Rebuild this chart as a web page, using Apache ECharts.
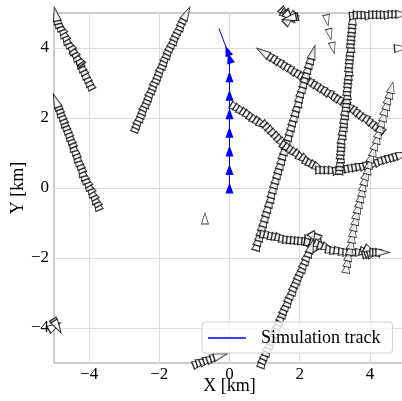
<!DOCTYPE html>
<html>
<head>
<meta charset="utf-8">
<script src="https://cdn.jsdelivr.net/npm/echarts@6/dist/echarts.min.js"></script>
<style>
  html, body { margin: 0; padding: 0; background: #fff; }
  #chart { width: 402px; height: 401px; }
</style>
</head>
<body>
<div id="chart"></div>
<script>
// tick labels
const xTicks = [-4, -2, 0, 2, 4];
const yTicks = [-4, -2, 0, 2, 4];

// simulation track (km)
const simTrack = [
  [0, 0], [0, 0.53], [0, 1.06], [0, 1.59], [0, 2.12], [0, 2.65], [0, 3.18], [0, 3.71],
  [-0.06, 3.92], [-0.3, 4.56]
];

// observed tracks (km), ordered along direction of travel
const trackA = [
  [-4.00, 3.00], [-4.05, 3.10], [-4.10, 3.21], [-4.15, 3.31], [-4.20, 3.42], [-4.25, 3.52],
  [-4.30, 3.63], [-4.33, 3.70], [-4.36, 3.75], [-4.31, 3.68], [-4.35, 3.73], [-4.41, 3.82],
  [-4.46, 3.92], [-4.52, 4.01], [-4.57, 4.11], [-4.63, 4.20], [-4.68, 4.30], [-4.72, 4.40],
  [-4.77, 4.49], [-4.81, 4.59], [-4.86, 4.68], [-4.90, 4.78], [-4.93, 4.88], [-4.95, 4.97]
];
const trackB = [
  [-3.78, -0.44], [-3.82, -0.34], [-3.87, -0.25], [-3.91, -0.15], [-3.96, -0.06], [-4.00, 0.04],
  [-4.05, 0.13], [-4.09, 0.23], [-4.14, 0.32], [-4.18, 0.42], [-4.22, 0.52], [-4.25, 0.63],
  [-4.29, 0.73], [-4.33, 0.83], [-4.37, 0.94], [-4.40, 1.04], [-4.44, 1.14], [-4.48, 1.24],
  [-4.51, 1.35], [-4.55, 1.45], [-4.59, 1.55], [-4.62, 1.64], [-4.66, 1.74], [-4.70, 1.84],
  [-4.74, 1.94], [-4.77, 2.03], [-4.81, 2.13], [-4.85, 2.23], [-4.88, 2.32], [-4.92, 2.42],
  [-4.95, 2.50]
];
const trackC = [
  [-2.64, 1.79], [-2.60, 1.89], [-2.56, 1.99], [-2.51, 2.09], [-2.47, 2.19], [-2.43, 2.29],
  [-2.39, 2.39], [-2.34, 2.49], [-2.30, 2.59], [-2.26, 2.69], [-2.22, 2.79], [-2.17, 2.89],
  [-2.13, 2.99], [-2.09, 3.09], [-2.04, 3.19], [-2.00, 3.29], [-1.96, 3.39], [-1.92, 3.49],
  [-1.87, 3.59], [-1.83, 3.69], [-1.79, 3.79], [-1.74, 3.89], [-1.70, 3.99], [-1.65, 4.09],
  [-1.60, 4.19], [-1.55, 4.29], [-1.51, 4.39], [-1.46, 4.49], [-1.41, 4.59], [-1.36, 4.69],
  [-1.32, 4.79], [-1.27, 4.89], [-1.22, 4.99]
];
const trackE = [
  [4.23, 1.71], [4.14, 1.78], [4.05, 1.84], [3.96, 1.91], [3.87, 1.98], [3.78, 2.05],
  [3.68, 2.11], [3.59, 2.18], [3.50, 2.25], [3.41, 2.32], [3.32, 2.38], [3.23, 2.45],
  [3.13, 2.51], [3.04, 2.57], [2.94, 2.63], [2.85, 2.69], [2.76, 2.75], [2.66, 2.80],
  [2.57, 2.86], [2.47, 2.92], [2.38, 2.98], [2.28, 3.04], [2.19, 3.10], [2.09, 3.16],
  [2.00, 3.22], [1.90, 3.28], [1.81, 3.34], [1.71, 3.40], [1.62, 3.46], [1.52, 3.52],
  [1.42, 3.58], [1.33, 3.64], [1.23, 3.70], [1.14, 3.76], [1.04, 3.82], [0.95, 3.88]
];
const trackF = [
  [0.80, -1.59], [0.84, -1.45], [0.88, -1.32], [0.92, -1.18], [0.96, -1.04], [1.00, -0.91],
  [1.04, -0.77], [1.08, -0.63], [1.12, -0.50], [1.16, -0.36], [1.20, -0.22], [1.23, -0.09],
  [1.27, 0.05], [1.31, 0.19], [1.35, 0.32], [1.39, 0.46], [1.43, 0.60], [1.47, 0.73],
  [1.51, 0.87], [1.55, 1.01], [1.59, 1.14], [1.63, 1.28], [1.67, 1.42], [1.71, 1.55],
  [1.75, 1.69], [1.79, 1.83], [1.83, 1.97], [1.87, 2.10], [1.91, 2.24], [1.95, 2.38],
  [1.99, 2.51], [2.02, 2.65], [2.06, 2.79], [2.10, 2.92], [2.14, 3.06], [2.18, 3.20],
  [2.22, 3.33], [2.26, 3.47], [2.30, 3.61], [2.34, 3.74], [2.38, 3.88]
];
const trackG = [
  [0.21, 2.28], [0.31, 2.22], [0.40, 2.16], [0.50, 2.10], [0.59, 2.04], [0.69, 1.97],
  [0.78, 1.91], [0.88, 1.85], [0.97, 1.79], [1.07, 1.73], [1.15, 1.65], [1.23, 1.57],
  [1.31, 1.49], [1.40, 1.40], [1.48, 1.32], [1.56, 1.24], [1.64, 1.16], [1.73, 1.10],
  [1.83, 1.03], [1.92, 0.97], [2.01, 0.91], [2.10, 0.84], [2.20, 0.78], [2.29, 0.71],
  [2.38, 0.66], [2.48, 0.61], [2.57, 0.56], [2.66, 0.51], [2.78, 0.51], [2.90, 0.51],
  [3.02, 0.51], [3.14, 0.51], [3.25, 0.53], [3.36, 0.55], [3.47, 0.57], [3.58, 0.59],
  [3.69, 0.61], [3.80, 0.63], [3.91, 0.65], [4.01, 0.68], [4.12, 0.71], [4.22, 0.74],
  [4.33, 0.77], [4.43, 0.81], [4.54, 0.84], [4.64, 0.87], [4.75, 0.90], [4.85, 0.93],
  [4.95, 0.96], [5.05, 0.99]
];
const trackH = [
  [3.14, 0.59], [3.15, 0.70], [3.16, 0.81], [3.17, 0.92], [3.17, 1.03], [3.18, 1.14],
  [3.19, 1.25], [3.20, 1.36], [3.21, 1.47], [3.23, 1.59], [3.24, 1.70], [3.26, 1.82],
  [3.27, 1.93], [3.28, 2.04], [3.30, 2.16], [3.31, 2.27], [3.33, 2.39], [3.34, 2.50],
  [3.35, 2.61], [3.36, 2.73], [3.36, 2.84], [3.37, 2.95], [3.38, 3.07], [3.39, 3.18],
  [3.40, 3.29], [3.41, 3.41], [3.41, 3.52], [3.42, 3.63], [3.43, 3.75], [3.44, 3.86],
  [3.45, 3.97], [3.46, 4.08], [3.46, 4.20], [3.47, 4.31], [3.48, 4.42], [3.49, 4.53],
  [3.50, 4.64], [3.51, 4.76], [3.52, 4.87]
];
const trackI = [
  [3.62, 4.93], [3.73, 4.94], [3.84, 4.94], [3.95, 4.94], [4.06, 4.94], [4.17, 4.95],
  [4.28, 4.95], [4.39, 4.95], [4.50, 4.95], [4.61, 4.95], [4.72, 4.96], [4.83, 4.96],
  [4.94, 4.96], [5.05, 4.96]
];
const trackJ = [[2.78, 4.79], [2.86, 4.39], [2.95, 4.00]];
const trackK = [
  [1.60, 4.98], [1.65, 4.93], [1.70, 4.90], [1.72, 4.87], [1.74, 4.85], [1.72, 4.83],
  [1.75, 4.86], [1.70, 4.85]
];
const trackL = [[4.90, 4.00], [5.02, 4.01]];
const trackM = [
  [3.34, -2.27], [3.37, -2.10], [3.40, -1.93], [3.44, -1.76], [3.47, -1.59], [3.50, -1.41],
  [3.53, -1.24], [3.56, -1.07], [3.60, -0.90], [3.63, -0.73], [3.67, -0.57], [3.71, -0.41],
  [3.75, -0.25], [3.79, -0.09], [3.82, 0.07], [3.86, 0.23], [3.90, 0.39], [3.96, 0.55],
  [4.00, 0.71], [4.05, 0.89], [4.11, 1.06], [4.16, 1.24], [4.22, 1.42], [4.26, 1.58],
  [4.31, 1.74], [4.35, 1.90], [4.40, 2.06], [4.44, 2.23], [4.49, 2.39], [4.53, 2.55],
  [4.58, 2.71], [4.62, 2.87]
];
const trackN = [
  [1.07, -1.35], [1.18, -1.37], [1.29, -1.40], [1.40, -1.42], [1.50, -1.44], [1.61, -1.47],
  [1.72, -1.49], [1.83, -1.50], [1.94, -1.51], [2.05, -1.52], [2.15, -1.53], [2.26, -1.54],
  [2.37, -1.55], [2.32, -1.50], [2.35, -1.45], [2.42, -1.45], [2.46, -1.52], [2.43, -1.60],
  [2.36, -1.62], [2.33, -1.57], [2.48, -1.60], [2.60, -1.64], [2.71, -1.69], [2.83, -1.73],
  [2.94, -1.78], [3.06, -1.80], [3.18, -1.81], [3.31, -1.83], [3.43, -1.84], [3.55, -1.84],
  [3.67, -1.84], [3.79, -1.84], [3.91, -1.84], [3.98, -1.86], [4.05, -1.84], [4.10, -1.82],
  [4.02, -1.80], [4.13, -1.86], [4.20, -1.84], [4.28, -1.84], [4.37, -1.84]
];
const trackO = [
  [0.90, -5.05], [0.95, -4.94], [0.99, -4.83], [1.04, -4.72], [1.09, -4.61], [1.13, -4.50],
  [1.18, -4.40], [1.22, -4.29], [1.27, -4.18], [1.32, -4.07], [1.36, -3.96], [1.41, -3.85],
  [1.46, -3.74], [1.50, -3.63], [1.55, -3.52], [1.59, -3.42], [1.64, -3.31], [1.69, -3.20],
  [1.73, -3.09], [1.78, -2.98], [1.83, -2.87], [1.87, -2.76], [1.92, -2.65], [1.97, -2.54],
  [2.01, -2.44], [2.06, -2.33], [2.11, -2.22], [2.15, -2.11], [2.20, -2.00], [2.24, -1.89],
  [2.29, -1.78], [2.33, -1.66]
];
const trackP = [
  [-0.95, -5.03], [-0.85, -5.00], [-0.75, -4.96], [-0.65, -4.93], [-0.55, -4.89],
  [-0.45, -4.86], [-0.35, -4.82], [-0.25, -4.79]
];
const trackQ = [[-0.70, -0.87]];
const trackR = [[-4.98, -3.95], [-4.93, -3.92], [-4.90, -3.97]];

const denseTracks = [trackA, trackB, trackC, trackE, trackF, trackG, trackH, trackI, trackK, trackL, trackN, trackO, trackP, trackR];
const sparseTracks = [trackM];
const singleTracks = [trackJ, trackQ];

// heading of each marker from its neighbour
function withHeading(track) {
  return track.map((p, i) => {
    let a = p, b = track[i + 1];
    if (!b) { a = track[i - 1]; b = p; }
    const rot = a ? Math.atan2(b[1] - a[1], b[0] - a[0]) * 180 / Math.PI - 90 : 0;
    return { value: p, symbolRotate: rot };
  });
}

const chart = echarts.init(document.getElementById('chart'));
const serif = '"Liberation Serif", "DejaVu Serif", serif';

const markerStyle = { color: '#ffffff', borderColor: '#000000', borderWidth: 1.1 };
const series = [];
denseTracks.forEach((t, i) => series.push({
  name: 'dense' + i, type: 'scatter', data: withHeading(t),
  symbol: 'triangle', symbolSize: [8, 14], itemStyle: markerStyle, z: 2
}));
sparseTracks.forEach((t, i) => series.push({
  name: 'sparse' + i, type: 'scatter', data: withHeading(t),
  symbol: 'triangle', symbolSize: [8, 11], itemStyle: { color: '#ffffff', borderColor: '#000000', borderWidth: 0.8 }, z: 2
}));
singleTracks.forEach((t, i) => series.push({
  name: 'single' + i, type: 'scatter', data: withHeading(t),
  symbol: 'triangle', symbolSize: [7, 11], itemStyle: { color: '#ffffff', borderColor: '#000000', borderWidth: 0.8 }, z: 2
}));

const simData = withHeading(simTrack);
simData[simData.length - 1].symbol = 'none';
series.push({
  name: 'Simulation track', type: 'line', data: simData,
  symbol: 'triangle', symbolSize: [8, 11], showAllSymbol: true,
  lineStyle: { color: '#0000ff', width: 1 },
  itemStyle: { color: '#0000ff', borderWidth: 0 },
  z: 3
});

chart.setOption({
  animation: false,
  backgroundColor: '#ffffff',
  textStyle: { fontFamily: serif },
  grid: {
    left: 54, right: -3, top: 13, bottom: 38,
    outerBoundsMode: 'none',
    show: true, borderColor: '#999', borderWidth: 1, backgroundColor: 'transparent'
  },
  legend: {
    data: [{ name: 'Simulation track', icon: 'rect' }],
    left: 202, top: 322,
    padding: [7, 12, 6, 6],
    itemWidth: 38, itemHeight: 1.5,
    borderColor: '#d0d0d0', borderWidth: 1, borderRadius: 3,
    backgroundColor: 'rgba(255,255,255,0.8)',
    textStyle: { fontFamily: serif, fontSize: 18, color: '#000', padding: [0, 0, 0, 10] }
  },
  xAxis: {
    type: 'value', min: -5, max: 5,
    name: 'X [km]', nameLocation: 'middle', nameGap: 14, nameMoveOverlap: false,
    nameTextStyle: { fontFamily: serif, fontSize: 18, color: '#000', verticalAlign: 'top' },
    axisLine: { show: false, onZero: false },
    axisTick: { show: false, customValues: xTicks },
    axisLabel: { customValues: xTicks, fontFamily: serif, fontSize: 17, color: '#000', margin: 3,
      formatter: v => String(v).replace('-', '\u2212') },
    splitLine: { show: true, lineStyle: { color: '#dcdcdc', width: 1 } }
  },
  yAxis: {
    type: 'value', min: -5, max: 5,
    name: 'Y [km]', nameLocation: 'middle', nameGap: 27, nameMoveOverlap: false,
    nameTextStyle: { fontFamily: serif, fontSize: 18, color: '#000' },
    axisLine: { show: false, onZero: false },
    axisTick: { show: false, customValues: yTicks },
    axisLabel: { customValues: yTicks, fontFamily: serif, fontSize: 17, color: '#000', margin: 5,
      formatter: v => String(v).replace('-', '\u2212') },
    splitLine: { show: true, lineStyle: { color: '#dcdcdc', width: 1 } }
  },
  series: series
});
</script>
</body>
</html>
